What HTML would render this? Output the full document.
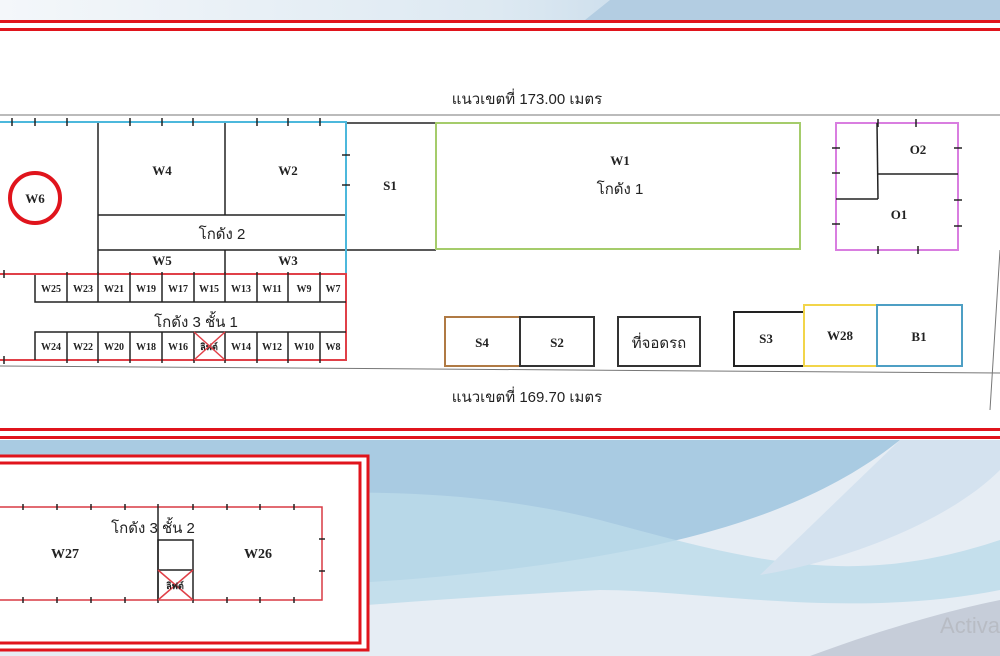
<!DOCTYPE html>
<html><head><meta charset="utf-8"><style>
html,body{margin:0;padding:0;width:1000px;height:656px;overflow:hidden;background:#fff}
svg{display:block}
text{font-family:"Liberation Serif","Noto Sans CJK SC",serif;font-weight:bold;font-size:13px;fill:#222;text-anchor:middle}
.s{font-size:10px}
.th{font-family:"Liberation Sans","Noto Sans CJK SC",sans-serif;font-weight:normal;font-size:15px}
</style></head><body>
<svg width="1000" height="656" viewBox="0 0 1000 656" xmlns="http://www.w3.org/2000/svg">
<defs>
<linearGradient id="tg" x1="0" x2="1" y1="0" y2="0"><stop offset="0" stop-color="#f4f7fa"/><stop offset="0.5" stop-color="#dde9f2"/><stop offset="1" stop-color="#9fc0db"/></linearGradient>
</defs>
<!-- top strip -->
<rect x="0" y="0" width="1000" height="20" fill="url(#tg)"/>
<path d="M610 0 L1000 0 L1000 20 L585 20 Z" fill="#b3cde2"/>
<!-- bottom wave area -->
<rect x="0" y="440" width="1000" height="216" fill="#e6edf4"/>
<path d="M0 440 L900 440 C800 520 650 560 400 580 C250 590 100 600 0 610 Z" fill="#a9cbe2"/>
<path d="M0 520 C200 500 400 470 600 520 C750 560 850 590 1000 540 L1000 590 C850 620 700 590 600 590 C400 600 200 620 0 630 Z" fill="#bcdbea" opacity="0.8"/>
<path d="M900 440 L1000 440 L1000 470 C950 520 850 560 760 575 Z" fill="#d4e2ef"/>
<path d="M810 656 C880 630 950 610 1000 600 L1000 656 Z" fill="#c6cdd9"/>
<text x="970" y="633" style="font-family:'Liberation Sans',sans-serif;font-weight:normal;font-size:22px;fill:#b8bcc4">Activa</text>
<!-- white main area -->
<rect x="0" y="31" width="1000" height="397" fill="#fff"/>
<!-- red double lines -->
<rect x="0" y="20" width="1000" height="3" fill="#e0141c"/>
<rect x="0" y="28" width="1000" height="3" fill="#e0141c"/>
<rect x="0" y="428" width="1000" height="3" fill="#e0141c"/>
<rect x="0" y="436" width="1000" height="3" fill="#e0141c"/>
<!-- lower box -->
<rect x="-5" y="456" width="373" height="194" fill="#fff" stroke="#e0141c" stroke-width="3"/>
<rect x="-5" y="463" width="365" height="180" fill="#fff" stroke="#e0141c" stroke-width="3"/>

<!-- boundary lines -->
<line x1="0" y1="115" x2="1000" y2="115" stroke="#777" stroke-width="1"/>
<line x1="0" y1="366" x2="1000" y2="373" stroke="#777" stroke-width="1"/>
<line x1="1000" y1="250" x2="990" y2="410" stroke="#777" stroke-width="1"/>
<text class="th" x="527" y="104">แนวเขตที่ 173.00 เมตร</text>
<text class="th" x="527" y="402">แนวเขตที่ 169.70 เมตร</text>

<!-- Blue block -->
<g stroke="#222" stroke-width="1.5" fill="none">
<line x1="98" y1="122" x2="98" y2="275"/>
<line x1="225" y1="122" x2="225" y2="215"/>
<line x1="225" y1="250" x2="225" y2="275"/>
<line x1="98" y1="215" x2="346" y2="215"/>
<line x1="98" y1="250" x2="436" y2="250"/>
<polyline points="346,123 436,123 436,250"/>
</g>
<polyline points="0,122 346,122 346,274" fill="none" stroke="#4cb8dc" stroke-width="2"/>
<g stroke="#222" stroke-width="1.5">
<line x1="12" y1="118" x2="12" y2="126"/><line x1="35" y1="118" x2="35" y2="126"/><line x1="67" y1="118" x2="67" y2="126"/>
<line x1="130" y1="118" x2="130" y2="126"/><line x1="162" y1="118" x2="162" y2="126"/><line x1="193" y1="118" x2="193" y2="126"/>
<line x1="257" y1="118" x2="257" y2="126"/><line x1="288" y1="118" x2="288" y2="126"/><line x1="320" y1="118" x2="320" y2="126"/>
<line x1="342" y1="155" x2="350" y2="155"/><line x1="342" y1="185" x2="350" y2="185"/>
</g>
<text x="162" y="175">W4</text>
<text x="288" y="175">W2</text>
<text x="390" y="190">S1</text>
<text class="th" x="222" y="239">โกดัง 2</text>
<text x="162" y="265">W5</text>
<text x="288" y="265">W3</text>
<circle cx="35" cy="198" r="25" fill="none" stroke="#e0141c" stroke-width="4"/>
<text x="35" y="203">W6</text>
<!-- W1 -->
<rect x="436" y="123" width="364" height="126" fill="none" stroke="#a5cc6b" stroke-width="2"/>
<text x="620" y="165">W1</text>
<text class="th" x="620" y="194">โกดัง 1</text>

<!-- Red block -->
<polyline points="0,274 346,274 346,360 0,360" fill="none" stroke="#e04048" stroke-width="2"/>
<g stroke="#222" stroke-width="1.5" fill="none">
<polyline points="35,275 35,302 346,302"/>
<polyline points="35,360 35,332 346,332"/>
</g>
<g stroke="#222" stroke-width="1.5">
<line x1="67" y1="272" x2="67" y2="302"/><line x1="98" y1="272" x2="98" y2="302"/><line x1="130" y1="272" x2="130" y2="302"/><line x1="162" y1="272" x2="162" y2="302"/><line x1="194" y1="272" x2="194" y2="302"/><line x1="225" y1="272" x2="225" y2="302"/><line x1="257" y1="272" x2="257" y2="302"/><line x1="288" y1="272" x2="288" y2="302"/><line x1="320" y1="272" x2="320" y2="302"/>
<line x1="67" y1="332" x2="67" y2="363"/><line x1="98" y1="332" x2="98" y2="363"/><line x1="130" y1="332" x2="130" y2="363"/><line x1="162" y1="332" x2="162" y2="363"/><line x1="194" y1="332" x2="194" y2="363"/><line x1="225" y1="332" x2="225" y2="363"/><line x1="257" y1="332" x2="257" y2="363"/><line x1="288" y1="332" x2="288" y2="363"/><line x1="320" y1="332" x2="320" y2="363"/>
<line x1="4" y1="270" x2="4" y2="278"/><line x1="4" y1="356" x2="4" y2="364"/>
</g>
<g class="s">
<text class="s" x="51" y="292">W25</text><text class="s" x="83" y="292">W23</text><text class="s" x="114" y="292">W21</text><text class="s" x="146" y="292">W19</text><text class="s" x="178" y="292">W17</text><text class="s" x="209" y="292">W15</text><text class="s" x="241" y="292">W13</text><text class="s" x="272" y="292">W11</text><text class="s" x="304" y="292">W9</text><text class="s" x="333" y="292">W7</text>
<text class="s" x="51" y="350">W24</text><text class="s" x="83" y="350">W22</text><text class="s" x="114" y="350">W20</text><text class="s" x="146" y="350">W18</text><text class="s" x="178" y="350">W16</text><text class="s" x="209" y="350" style="font-family:'Noto Sans CJK SC',sans-serif;font-size:9px">ลิฟต์</text><text class="s" x="241" y="350">W14</text><text class="s" x="272" y="350">W12</text><text class="s" x="304" y="350">W10</text><text class="s" x="333" y="350">W8</text>
</g>
<g stroke="#e04048" stroke-width="1.5"><line x1="194" y1="332" x2="225" y2="360"/><line x1="225" y1="332" x2="194" y2="360"/></g>
<text class="th" x="196" y="327">โกดัง 3 ชั้น 1</text>

<!-- Magenta -->
<rect x="836" y="123" width="122" height="127" fill="none" stroke="#d97ee0" stroke-width="2"/>
<g stroke="#222" stroke-width="1.5" fill="none">
<line x1="877" y1="123" x2="878" y2="199"/>
<line x1="878" y1="174" x2="958" y2="174"/>
<line x1="836" y1="199" x2="878" y2="199"/>
<line x1="916" y1="119" x2="916" y2="127"/><line x1="878" y1="119" x2="878" y2="127"/>
<line x1="832" y1="148" x2="840" y2="148"/><line x1="832" y1="173" x2="840" y2="173"/><line x1="832" y1="224" x2="840" y2="224"/>
<line x1="954" y1="148" x2="962" y2="148"/><line x1="954" y1="200" x2="962" y2="200"/><line x1="954" y1="226" x2="962" y2="226"/>
<line x1="878" y1="246" x2="878" y2="254"/><line x1="918" y1="246" x2="918" y2="254"/>
</g>
<text x="918" y="154">O2</text>
<text x="899" y="219">O1</text>

<!-- bottom row -->
<rect x="445" y="317" width="75" height="49" fill="none" stroke="#b07a44" stroke-width="2"/>
<rect x="520" y="317" width="74" height="49" fill="none" stroke="#333" stroke-width="2"/>
<rect x="618" y="317" width="82" height="49" fill="none" stroke="#333" stroke-width="2"/>
<rect x="734" y="312" width="70" height="54" fill="none" stroke="#222" stroke-width="2"/>
<rect x="804" y="305" width="73" height="61" fill="none" stroke="#f2d54a" stroke-width="2"/>
<rect x="877" y="305" width="85" height="61" fill="none" stroke="#4e9fc4" stroke-width="2"/>
<text x="482" y="347">S4</text>
<text x="557" y="347">S2</text>
<text class="th" x="659" y="348">ที่จอดรถ</text>
<text x="766" y="343">S3</text>
<text x="840" y="340">W28</text>
<text x="919" y="341">B1</text>

<!-- lower plan -->
<polyline points="0,507 322,507 322,600 0,600" fill="none" stroke="#d93a44" stroke-width="1.5"/>
<g stroke="#222" stroke-width="1.5" fill="none">
<line x1="158" y1="504" x2="158" y2="603"/>
<rect x="158" y="540" width="35" height="30"/>
<line x1="158" y1="570" x2="158" y2="600"/><line x1="193" y1="570" x2="193" y2="603"/>
<line x1="23" y1="504" x2="23" y2="510"/><line x1="57" y1="504" x2="57" y2="510"/><line x1="91" y1="504" x2="91" y2="510"/><line x1="125" y1="504" x2="125" y2="510"/><line x1="193" y1="504" x2="193" y2="510"/><line x1="227" y1="504" x2="227" y2="510"/><line x1="260" y1="504" x2="260" y2="510"/><line x1="294" y1="504" x2="294" y2="510"/>
<line x1="23" y1="597" x2="23" y2="603"/><line x1="57" y1="597" x2="57" y2="603"/><line x1="91" y1="597" x2="91" y2="603"/><line x1="125" y1="597" x2="125" y2="603"/><line x1="227" y1="597" x2="227" y2="603"/><line x1="260" y1="597" x2="260" y2="603"/><line x1="294" y1="597" x2="294" y2="603"/>
<line x1="319" y1="539" x2="325" y2="539"/><line x1="319" y1="571" x2="325" y2="571"/>
</g>
<g stroke="#e04048" stroke-width="1.5"><line x1="158" y1="570" x2="193" y2="600"/><line x1="193" y1="570" x2="158" y2="600"/></g>
<text class="s" x="175" y="589" style="font-family:'Noto Sans CJK SC',sans-serif;font-size:9px">ลิฟต์</text>
<text class="th" x="153" y="533">โกดัง 3 ชั้น 2</text>
<text x="65" y="558" style="font-size:14px">W27</text>
<text x="258" y="558" style="font-size:14px">W26</text>
</svg>
</body></html>
